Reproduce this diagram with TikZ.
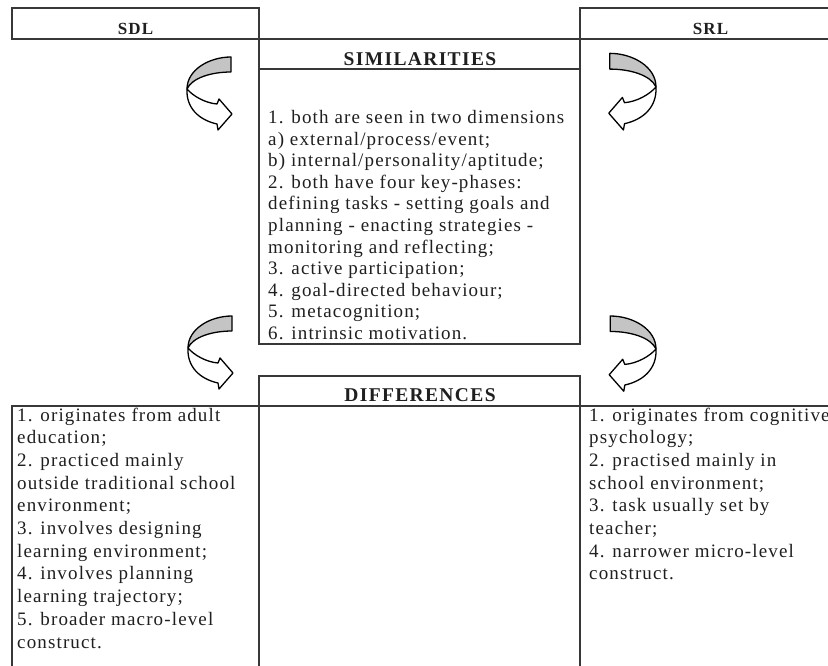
\documentclass[tikz,border=0pt]{standalone}
\usepackage{fontspec}
\setmainfont{Liberation Serif}
\newfontfamily\txtfont{Liberation Serif}[LetterSpace=6]
\newfontfamily\hdfont{Liberation Serif}[LetterSpace=7]
\definecolor{backgray}{RGB}{196,196,196}
\begin{document}
\begin{tikzpicture}[x=1pt,y=-1pt,
  boxline/.style={draw=black!78, line width=1.2pt},
  arrowline/.style={draw=black, line width=1.3pt, line join=round},
  txt/.style={anchor=base west, inner sep=0pt, text=black!88,
    font=\txtfont\fontsize{19}{21}\selectfont},
  bigtitle/.style={anchor=base, inner sep=0pt, text=black!88,
    font=\hdfont\bfseries\fontsize{19.5}{22}\selectfont},
  smalltitle/.style={anchor=base, inner sep=0pt, text=black!88,
    font=\hdfont\bfseries\fontsize{17}{20}\selectfont},
  uturn/.pic={
    \path[arrowline, fill=backgray] (44,-33) .. controls (22,-33) and (0,-20) .. (0,-1)
        .. controls (5,-12) and (24,-18) .. (44,-18) -- cycle;
    \path[arrowline, fill=white] (0,-1) .. controls (6,6) and (18,13) .. (30,14)
        -- (32,9) -- (45,24) -- (31,40) -- (30,34)
        .. controls (12,30) and (-1,18) .. (0,-1) -- cycle;
  }]
\useasboundingbox (0,0) rectangle (828,666);
\fill[white] (0,0) rectangle (828,666);
\clip (0,0) rectangle (828,666);

% header boxes
\draw[boxline] (12,8) rectangle (259,39);
\draw[boxline] (580,8) rectangle (842,39);
% similarities box
\draw[boxline] (259,39) rectangle (580,344);
\draw[boxline] (259,69) -- (580,69);
% differences
\draw[boxline] (259,376) rectangle (580,700);
\draw[boxline] (12,406) rectangle (259,700);
\draw[boxline] (580,406) rectangle (842,700);
\draw[boxline] (259,406) -- (580,406);

% titles
\node[smalltitle] (sdl) at (135.5,35) {SDL};
\node[smalltitle] (srl) at (710.5,35) {SRL};
\node[bigtitle] (sim) at (420,66) {SIMILARITIES};
\node[bigtitle] (dif) at (420,401.5) {DIFFERENCES};

% similarities text
\foreach \t [count=\i] in {
  {1. both are seen in two dimensions},
  {a) external/process/event;},
  {b) internal/personality/aptitude;},
  {2. both have four key-phases:},
  {defining tasks - setting goals and},
  {planning - enacting strategies -},
  {monitoring and reflecting;},
  {3. active participation;},
  {4. goal-directed behaviour;},
  {5. metacognition;},
  {6. intrinsic motivation.}}
  \node[txt] (s\i) at (268,{124+21.5*(\i-1)}) {\t};

% SDL differences
\foreach \t [count=\i] in {
  {1. originates from adult},
  {education;},
  {2. practiced mainly},
  {outside traditional school},
  {environment;},
  {3. involves designing},
  {learning environment;},
  {4. involves planning},
  {learning trajectory;},
  {5. broader macro-level},
  {construct.}}
  \node[txt] (l\i) at (17,{421+22.7*(\i-1)}) {\t};

% SRL differences
\foreach \t [count=\i] in {
  {1. originates from cognitive},
  {psychology;},
  {2. practised mainly in},
  {school environment;},
  {3. task usually set by},
  {teacher;},
  {4. narrower micro-level},
  {construct.}}
  \node[txt] (r\i) at (589,{421+22.7*(\i-1)}) {\t};

% curved arrows
\pic (a1) at (187,90) {uturn};
\pic (a2) at (188,349) {uturn};
\pic[xscale=-1.05, yscale=1.05] (a3) at (656,88) {uturn};
\pic[xscale=-1.04, yscale=1.03] (a4) at (656,350) {uturn};
\end{tikzpicture}
\end{document}
